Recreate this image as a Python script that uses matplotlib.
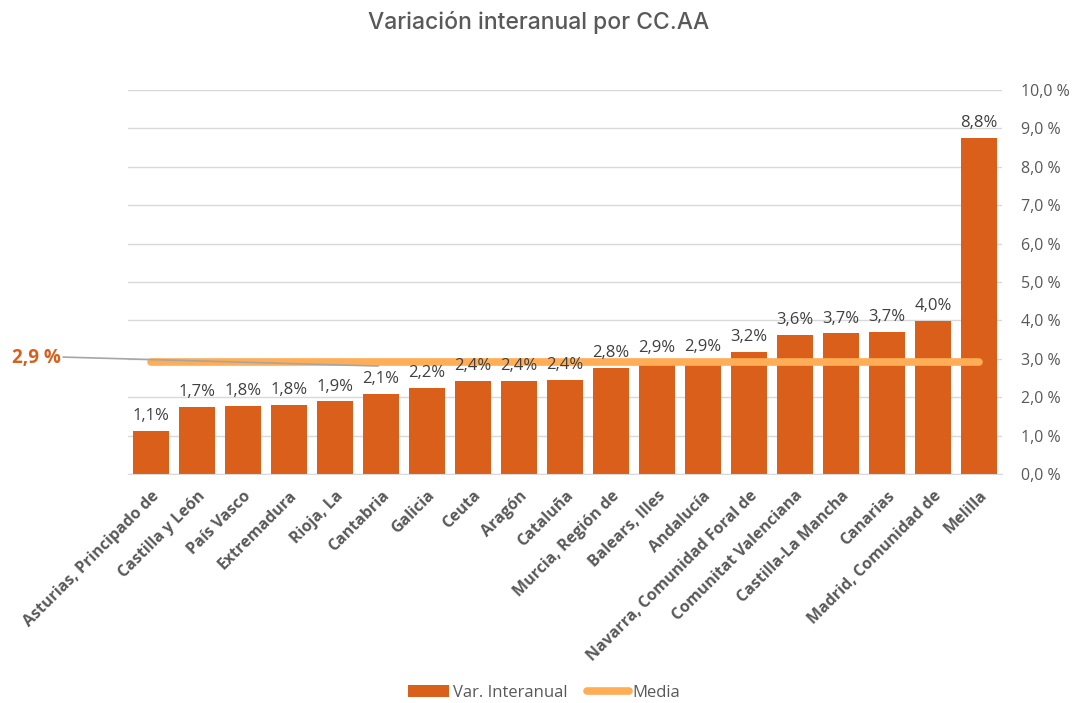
import matplotlib.pyplot as plt
from matplotlib.ticker import FuncFormatter, MultipleLocator

regiones = ['Asturias, Principado de', 'Castilla y León', 'País Vasco', 'Extremadura',
            'Rioja, La', 'Cantabria', 'Galicia', 'Ceuta', 'Aragón', 'Cataluña',
            'Murcia, Región de', 'Balears, Illes', 'Andalucía', 'Navarra, Comunidad Foral de',
            'Comunitat Valenciana', 'Castilla-La Mancha', 'Canarias', 'Madrid, Comunidad de',
            'Melilla']
var_interanual = [1.13, 1.74, 1.78, 1.80, 1.89, 2.09, 2.25, 2.42, 2.43, 2.44,
                  2.77, 2.90, 2.93, 3.18, 3.61, 3.66, 3.69, 3.99, 8.75]
media = 2.93

bar_color = '#D95F1A'
media_color = '#FFAE57'
gray = '#595959'

fig = plt.figure(figsize=(10.77, 7.03), dpi=100)
ax = fig.add_axes([0.1189, 0.3257, 0.8115, 0.5463])

x = list(range(len(regiones)))
bars = ax.bar(x, var_interanual, width=0.78, color=bar_color, zorder=2, label='Var. Interanual')
linea, = ax.plot([x[0], x[-1]], [media, media], color=media_color, lw=5.5,
                 solid_capstyle='round', zorder=3, label='Media')

for xi, v in zip(x, var_interanual):
    ax.annotate(f'{v:.1f}%'.replace('.', ','), (xi, v), xytext=(0, 5),
                textcoords='offset points', ha='center', va='bottom',
                fontsize=12, color='#404040', family='Open Sans')

ax.set_xlim(-0.5, len(regiones) - 0.5)
ax.set_ylim(0, 10)
ax.yaxis.set_major_locator(MultipleLocator(1))
ax.yaxis.tick_right()
ax.yaxis.set_major_formatter(FuncFormatter(lambda v, p: f'{v:.1f} %'.replace('.', ',')))
ax.tick_params(axis='y', length=0, pad=14, labelsize=11.5, labelcolor=gray)
ax.tick_params(axis='x', length=0, pad=10)
ax.grid(axis='y', color='#D9D9D9', lw=1, zorder=0)
for s in ['top', 'left', 'right']:
    ax.spines[s].set_visible(False)
ax.spines['bottom'].set_color('#D9D9D9')

ax.set_xticks(x)
ax.set_xticklabels(regiones, rotation=45, ha='right', rotation_mode='anchor',
                   fontsize=11.5, fontweight='bold', color=gray, family='Open Sans')
for lab in ax.get_yticklabels():
    lab.set_family('Open Sans')

# etiqueta de la media a la izquierda
fig.text(0.011, 1 - 358 / 703, '2,9 %', color=bar_color, fontsize=13.5,
         fontweight='bold', ha='left', va='center', family='Open Sans')
ax.annotate('', xy=(5.0, media - 0.12), xycoords='data',
            xytext=(0.056, 1 - 357 / 703), textcoords='figure fraction',
            arrowprops=dict(arrowstyle='-', color='#A6A6A6', lw=1.2))

fig.suptitle('Variación interanual por CC.AA', x=0.5, y=0.985, fontsize=16.5,
             color=gray, family='Inter', fontweight='medium')

fig.legend([bars, linea], ['Var. Interanual', 'Media'], loc='lower center',
           bbox_to_anchor=(0.505, -0.018), ncol=2, frameon=False,
           labelcolor=gray, handlelength=2.5, handletextpad=0.2,
           columnspacing=1.2, prop={'family': 'Open Sans', 'size': 12})

fig.savefig('out.png', dpi=100)
